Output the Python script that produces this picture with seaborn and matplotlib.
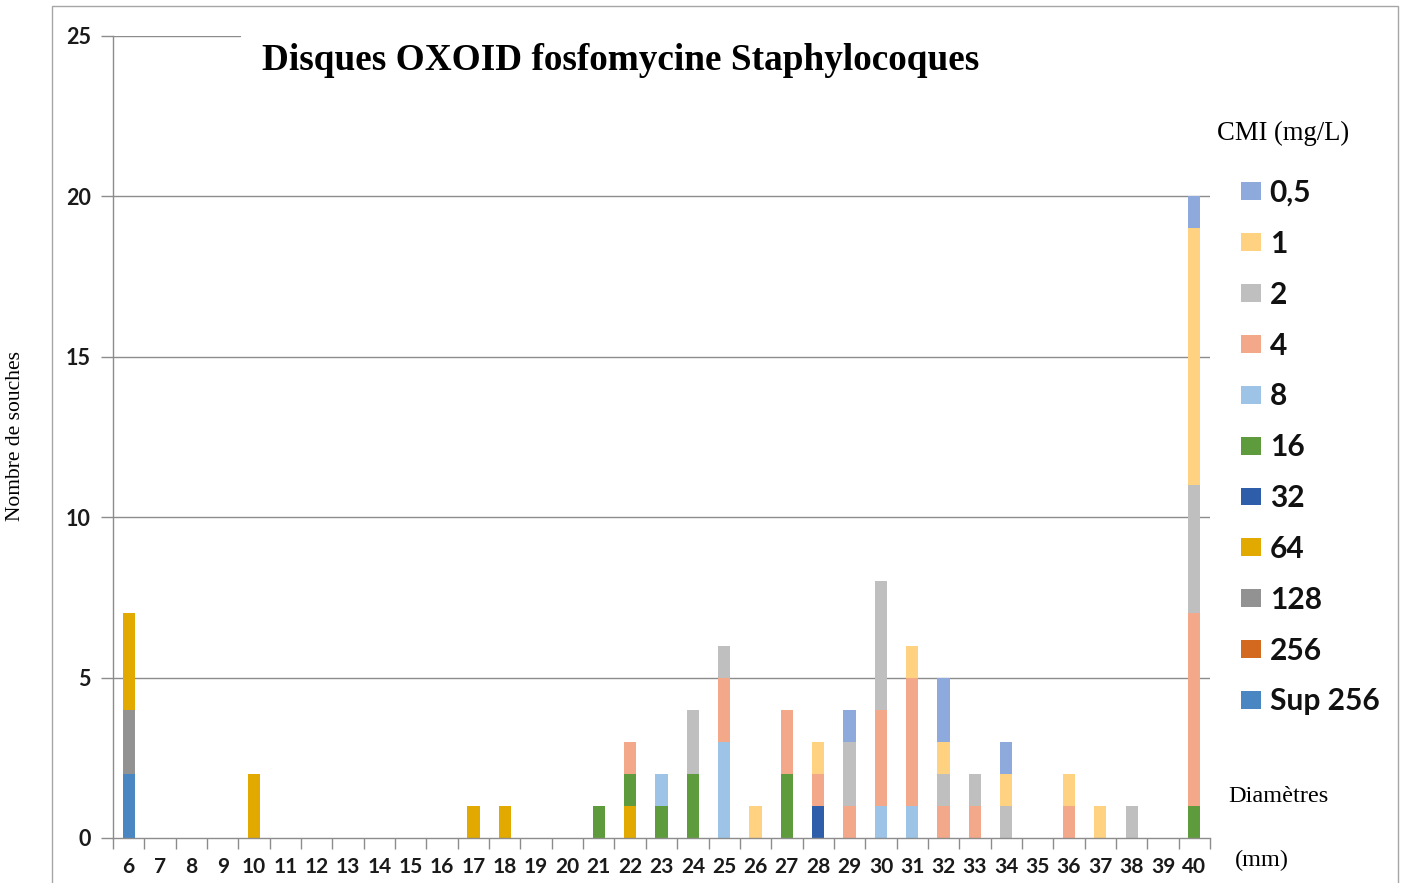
import matplotlib
matplotlib.use("Agg")
import matplotlib.pyplot as plt
from matplotlib.patches import Patch, Rectangle
import seaborn as sns
import pandas as pd
import numpy as np

# ---------------- data ----------------
diameters = list(range(6, 41))
cmi_levels = ["0,5", "1", "2", "4", "8", "16", "32", "64", "128", "256", "Sup 256"]

cmi_0_5 = [0,0,0,0,0, 0,0,0,0,0, 0,0,0,0,0, 0,0,0,0,0, 0,0,0,1,0, 0,2,0,1,0, 0,0,0,0,1]
cmi_1   = [0,0,0,0,0, 0,0,0,0,0, 0,0,0,0,0, 0,0,0,0,0, 1,0,1,0,0, 1,1,0,1,0, 1,1,0,0,8]
cmi_2   = [0,0,0,0,0, 0,0,0,0,0, 0,0,0,0,0, 0,0,0,2,1, 0,0,0,2,4, 0,1,1,1,0, 0,0,1,0,4]
cmi_4   = [0,0,0,0,0, 0,0,0,0,0, 0,0,0,0,0, 0,1,0,0,2, 0,2,1,1,3, 4,1,1,0,0, 1,0,0,0,6]
cmi_8   = [0,0,0,0,0, 0,0,0,0,0, 0,0,0,0,0, 0,0,1,0,3, 0,0,0,0,1, 1,0,0,0,0, 0,0,0,0,0]
cmi_16  = [0,0,0,0,0, 0,0,0,0,0, 0,0,0,0,0, 1,1,1,2,0, 0,2,0,0,0, 0,0,0,0,0, 0,0,0,0,1]
cmi_32  = [0,0,0,0,0, 0,0,0,0,0, 0,0,0,0,0, 0,0,0,0,0, 0,0,1,0,0, 0,0,0,0,0, 0,0,0,0,0]
cmi_64  = [3,0,0,0,2, 0,0,0,0,0, 0,1,1,0,0, 0,1,0,0,0, 0,0,0,0,0, 0,0,0,0,0, 0,0,0,0,0]
cmi_128 = [2,0,0,0,0, 0,0,0,0,0, 0,0,0,0,0, 0,0,0,0,0, 0,0,0,0,0, 0,0,0,0,0, 0,0,0,0,0]
cmi_256 = [0,0,0,0,0, 0,0,0,0,0, 0,0,0,0,0, 0,0,0,0,0, 0,0,0,0,0, 0,0,0,0,0, 0,0,0,0,0]
cmi_sup256 = [2,0,0,0,0, 0,0,0,0,0, 0,0,0,0,0, 0,0,0,0,0, 0,0,0,0,0, 0,0,0,0,0, 0,0,0,0,0]

series = [cmi_0_5, cmi_1, cmi_2, cmi_4, cmi_8, cmi_16, cmi_32, cmi_64, cmi_128, cmi_256, cmi_sup256]

colors = ["#8EA9DB", "#FFD281", "#BFBFBF", "#F4A88A", "#9DC3E6", "#5E9B3C",
          "#2E5DAA", "#E2A900", "#929292", "#D2691E", "#4A86C1"]
palette = dict(zip(cmi_levels, colors))

y_ticks = [0, 5, 10, 15, 20, 25]

rows = []
for lvl, vals in zip(cmi_levels, series):
    for d, v in zip(diameters, vals):
        rows.append({"diam": d, "cmi": lvl, "n": v})
df = pd.DataFrame(rows)

# ---------------- figure ----------------
sns.set_theme(style="white")
plt.rcParams["font.family"] = ["Lato", "DejaVu Sans"]

W, H = 1405, 883
fig = plt.figure(figsize=(W / 100, H / 100), dpi=100)
ax = fig.add_axes([113 / W, 1 - 838 / H, (1210 - 113) / W, (838 - 36) / H])

sns.histplot(data=df, x="diam", hue="cmi", weights="n", hue_order=cmi_levels,
             palette=palette, multiple="stack", discrete=True, shrink=0.39,
             binrange=(6, 40), linewidth=0, alpha=1, legend=False, ax=ax)

ax.set_xlim(5.5, 40.5)
ax.set_ylim(0, 25)
ax.set_xlabel("")
ax.set_ylabel("")

grid_c = "#8c8c8c"
ax.set_yticks(y_ticks)
ax.set_yticklabels([str(t) for t in y_ticks], fontsize=15.5, fontweight="bold", color="#1a1a1a")
ax.set_xticks(diameters)
ax.set_xticklabels([str(d) for d in diameters], fontsize=15, fontweight="bold", color="#1a1a1a")
ax.set_xticks(np.arange(5.5, 41, 1.0), minor=True)
ax.tick_params(axis="x", which="major", length=0, pad=14)
ax.tick_params(axis="x", which="minor", length=8, width=1, color=grid_c, direction="out", bottom=True)
ax.tick_params(axis="y", which="major", length=9, width=1, color=grid_c, direction="out", left=True, pad=7)

for t in y_ticks[1:-1]:
    ax.axhline(t, color=grid_c, linewidth=1, zorder=0)
ax.axhline(25, xmin=0, xmax=(240 - 113) / (1210 - 113), color=grid_c, linewidth=1, zorder=0)

for s in ["top", "right"]:
    ax.spines[s].set_visible(False)
for s in ["left", "bottom"]:
    ax.spines[s].set_color(grid_c)
    ax.spines[s].set_linewidth(1)

# title
fig.text(621 / W, 1 - 60 / H, "Disques OXOID fosfomycine Staphylocoques",
         ha="center", va="center", fontsize=26.8, fontweight="bold",
         family="Liberation Serif", color="black")

# y label
fig.text(16 / W, 1 - 436 / H, "Nombre de souches", rotation=90, ha="center", va="center",
         fontsize=15.5, family="Liberation Serif", color="black")

# legend title and axis note
fig.text(1217 / W, 1 - 133 / H, "CMI (mg/L)", ha="left", va="center",
         fontsize=19.2, family="Liberation Serif", color="black")
fig.text(1228 / W, 1 - 797 / H, "Diamètres", ha="left", va="center",
         fontsize=17.5, family="Liberation Serif", color="black")
fig.text(1235 / W, 1 - 860 / H, "(mm)", ha="left", va="center",
         fontsize=17.5, family="Liberation Serif", color="black")

handles = [Patch(facecolor=palette[l], edgecolor="none", label=l) for l in cmi_levels]
leg = fig.legend(handles=handles, loc="upper left", bbox_to_anchor=(1241 / W, 1 - 179 / H),
                 frameon=False, prop={"family": "Lato", "weight": "bold", "size": 21.5},
                 handlelength=0.66, handleheight=0.55, handletextpad=0.3,
                 labelspacing=0.765, borderpad=0, borderaxespad=0)
for t in leg.get_texts():
    t.set_color("#111111")

# outer frame
fig.patches.append(Rectangle((52 / W, -0.02), (1398 - 52) / W, 1.02 - 6 / H,
                             transform=fig.transFigure, fill=False,
                             edgecolor="#a6a6a6", linewidth=1))

fig.savefig("out.png", dpi=100)
